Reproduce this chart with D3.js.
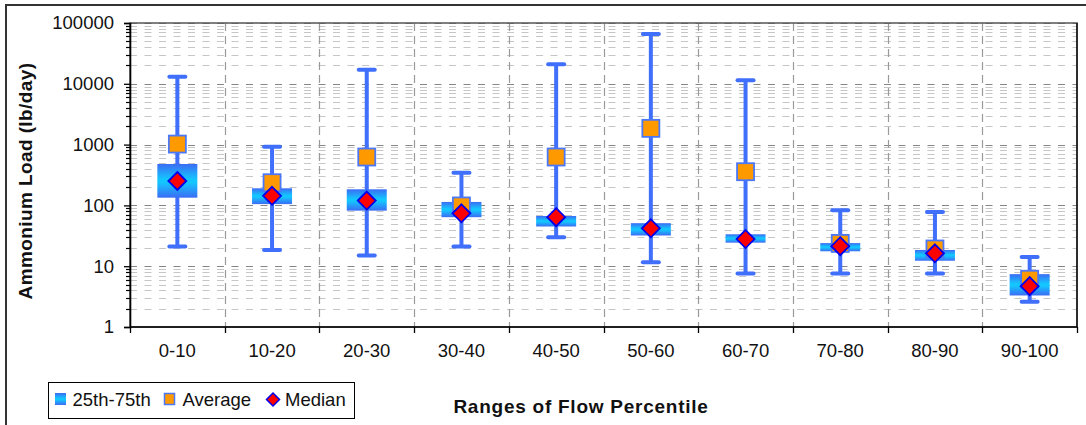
<!DOCTYPE html>
<html>
<head>
<meta charset="utf-8">
<script src="https://cdn.jsdelivr.net/npm/d3@7"></script>
<style>
  html, body { margin: 0; padding: 0; background: #fff; }
  svg { display: block; font-family: "Liberation Sans", Arial, sans-serif; }
</style>
</head>
<body>
<svg id="chart" width="1086" height="425"></svg>
<script>
// Flow-percentile classes and ammonium load statistics (lb/day)
const categories = ["0-10", "10-20", "20-30", "30-40", "40-50", "50-60", "60-70", "70-80", "80-90", "90-100"];
const whiskerHigh = [13000, 920, 17000, 345, 21000, 66000, 11400, 83, 78, 14.2];
const q3          = [480, 191, 184, 114, 67, 51, 33.5, 24, 18.5, 7.4];
const average     = [1020, 236, 625, 98, 625, 1850, 358, 23.7, 19.2, 6.1];
const median      = [252, 144, 120, 74, 64, 42, 28, 21.3, 16.3, 4.7];
const q1          = [134, 105, 82, 64, 45, 32, 24.4, 17.6, 12.3, 3.3];
const whiskerLow  = [21, 18.5, 15, 21, 30, 11.6, 7.6, 7.6, 7.6, 2.6];
const yTickValues = [1, 10, 100, 1000, 10000, 100000];

const rows = categories.map((c, i) => ({
  cat: c, hi: whiskerHigh[i], q3: q3[i], avg: average[i], med: median[i], q1: q1[i], lo: whiskerLow[i]
}));

const svg = d3.select("#chart");
const plot = { left: 130, right: 1077, top: 23, bottom: 327 };

const x = d3.scaleBand().domain(categories).range([plot.left, plot.right]).padding(0);
const y = d3.scaleLog().domain([1, 100000]).range([plot.bottom, plot.top]);

// Box fill: blue edges fading to cyan in the middle
const defs = svg.append("defs");
const grad = defs.append("linearGradient").attr("id", "boxFill")
  .attr("x1", 0).attr("y1", 0).attr("x2", 0).attr("y2", 1);
grad.append("stop").attr("offset", "0%").attr("stop-color", "#3b6cf4");
grad.append("stop").attr("offset", "45%").attr("stop-color", "#14c6ff");
grad.append("stop").attr("offset", "55%").attr("stop-color", "#14c6ff");
grad.append("stop").attr("offset", "100%").attr("stop-color", "#3b6cf4");

// Outer chart frame (only top and left edges fall inside the view)
svg.append("rect")
  .attr("x", 6).attr("y", 5).attr("width", 1200).attr("height", 500)
  .attr("fill", "none").attr("stroke", "#333").attr("stroke-width", 2);

// Horizontal grid: decades and their 2..9 subdivisions
const gridVals = [];
for (let d = 0; d < 5; d++) {
  for (let m = 1; m <= 9; m++) gridVals.push({ v: m * Math.pow(10, d), major: m === 1 });
}
gridVals.push({ v: 100000, major: true });

svg.append("g").selectAll("line").data(gridVals.filter(g => g.v > 1)).join("line")
  .attr("x1", plot.left).attr("x2", plot.right)
  .attr("y1", d => Math.round(y(d.v)) + 0.5).attr("y2", d => Math.round(y(d.v)) + 0.5)
  .attr("stroke", d => d.major ? "#868686" : "#c6c6c6")
  .attr("stroke-width", 1.1)
  .attr("stroke-dasharray", "7,7.5");

// Vertical grid between classes
const bounds = categories.slice(1).map(c => x(c));
svg.append("g").selectAll("line").data(bounds).join("line")
  .attr("x1", d => Math.round(d) + 0.5).attr("x2", d => Math.round(d) + 0.5)
  .attr("y1", plot.top).attr("y2", plot.bottom)
  .attr("stroke", "#9a9a9a").attr("stroke-width", 1.2)
  .attr("stroke-dasharray", "8,5");

// Plot area border
svg.append("rect")
  .attr("x", plot.left).attr("y", plot.top)
  .attr("width", plot.right - plot.left).attr("height", plot.bottom - plot.top)
  .attr("fill", "none").attr("stroke", "#555").attr("stroke-width", 1.5);
svg.append("line")
  .attr("x1", plot.right).attr("x2", plot.right).attr("y1", plot.top).attr("y2", plot.bottom)
  .attr("stroke", "#111").attr("stroke-width", 1.5);

// Y axis with major labels and minor ticks
const yAxis = d3.axisLeft(y).tickValues(yTickValues).tickFormat(d3.format("d")).tickSize(6).tickPadding(10);
const yg = svg.append("g").attr("transform", `translate(${plot.left},0)`).call(yAxis);
yg.select(".domain").attr("stroke", "#000").attr("stroke-width", 1.6);
yg.selectAll(".tick line").attr("stroke", "#000").attr("stroke-width", 1.3);
yg.selectAll(".tick text").attr("font-size", "18.5px").attr("fill", "#111")
  .attr("font-family", "'Liberation Sans', Arial, sans-serif");
svg.append("g").selectAll("line").data(gridVals.filter(g => !g.major)).join("line")
  .attr("x1", plot.left - 4).attr("x2", plot.left)
  .attr("y1", d => Math.round(y(d.v)) + 0.5).attr("y2", d => Math.round(y(d.v)) + 0.5)
  .attr("stroke", "#000").attr("stroke-width", 1.2);

// X axis: ticks at class boundaries, labels at class centres
const xg = svg.append("g").attr("transform", `translate(0,${plot.bottom})`);
xg.append("line").attr("x1", plot.left).attr("x2", plot.right).attr("y1", 0).attr("y2", 0)
  .attr("stroke", "#000").attr("stroke-width", 1.6);
xg.selectAll("line.tk").data(categories.map(c => x(c)).concat([plot.right])).join("line")
  .attr("class", "tk")
  .attr("x1", d => Math.round(d) + 0.5).attr("x2", d => Math.round(d) + 0.5)
  .attr("y1", 0).attr("y2", 6).attr("stroke", "#000").attr("stroke-width", 1.3);
xg.selectAll("text").data(categories).join("text")
  .attr("x", d => x(d) + x.bandwidth() / 2).attr("y", 30)
  .attr("text-anchor", "middle").attr("font-size", "18.5px").attr("fill", "#111")
  .text(d => d);

// Axis titles
svg.append("text")
  .attr("transform", "translate(32,181) rotate(-90)")
  .attr("text-anchor", "middle").attr("font-weight", "bold").attr("font-size", "19px")
  .attr("letter-spacing", "0.4px").attr("fill", "#111")
  .text("Ammonium Load (lb/day)");
svg.append("text")
  .attr("x", 581).attr("y", 413)
  .attr("text-anchor", "middle").attr("font-weight", "bold").attr("font-size", "19px")
  .attr("letter-spacing", "0.75px").attr("fill", "#111")
  .text("Ranges of Flow Percentile");

// Marks
const whiskerColor = "#3f6ffb";
const boxW = 40, capW = 16, sq = 17, dia = 9;
const g = svg.append("g").selectAll("g").data(rows).join("g")
  .attr("transform", d => `translate(${x(d.cat) + x.bandwidth() / 2},0)`);

g.append("line").attr("x1", 0).attr("x2", 0)
  .attr("y1", d => y(d.hi)).attr("y2", d => y(d.lo))
  .attr("stroke", whiskerColor).attr("stroke-width", 4);
g.append("line").attr("x1", -capW / 2).attr("x2", capW / 2)
  .attr("y1", d => y(d.hi)).attr("y2", d => y(d.hi))
  .attr("stroke", whiskerColor).attr("stroke-width", 4).attr("stroke-linecap", "round");
g.append("line").attr("x1", -capW / 2).attr("x2", capW / 2)
  .attr("y1", d => y(d.lo)).attr("y2", d => y(d.lo))
  .attr("stroke", whiskerColor).attr("stroke-width", 4).attr("stroke-linecap", "round");

g.append("rect")
  .attr("x", -boxW / 2).attr("width", boxW)
  .attr("y", d => y(d.q3)).attr("height", d => y(d.q1) - y(d.q3))
  .attr("fill", "url(#boxFill)");

g.append("rect")
  .attr("x", -sq / 2).attr("width", sq)
  .attr("y", d => y(d.avg) - sq / 2).attr("height", sq)
  .attr("fill", "#ff9900").attr("stroke", "#4a78f8").attr("stroke-width", 1.8);

g.append("path")
  .attr("d", d => {
    const c = y(d.med);
    return `M0,${c - dia}L${dia},${c}L0,${c + dia}L${-dia},${c}Z`;
  })
  .attr("fill", "#ff0000").attr("stroke", "#0000ee").attr("stroke-width", 1.8);

// Legend
const lg = svg.append("g");
lg.append("rect").attr("x", 48.5).attr("y", 382.5).attr("width", 306).attr("height", 36)
  .attr("fill", "#fff").attr("stroke", "#000").attr("stroke-width", 1);
lg.append("rect").attr("x", 55).attr("y", 393).attr("width", 11).attr("height", 12)
  .attr("fill", "url(#boxFill)");
lg.append("rect").attr("x", 164.5).attr("y", 393.5).attr("width", 10).attr("height", 11)
  .attr("fill", "#ff9900").attr("stroke", "#4a78f8").attr("stroke-width", 1.5);
lg.append("path").attr("d", "M273,393L279.5,399.5L273,406L266.5,399.5Z")
  .attr("fill", "#ff0000").attr("stroke", "#0000ee").attr("stroke-width", 1.5);
const legendLabels = [{ t: "25th-75th", x: 72.5 }, { t: "Average", x: 182.5 }, { t: "Median", x: 285 }];
lg.selectAll("text").data(legendLabels).join("text")
  .attr("x", d => d.x).attr("y", 405.5)
  .attr("font-size", "18.5px").attr("fill", "#111")
  .text(d => d.t);
</script>
</body>
</html>
